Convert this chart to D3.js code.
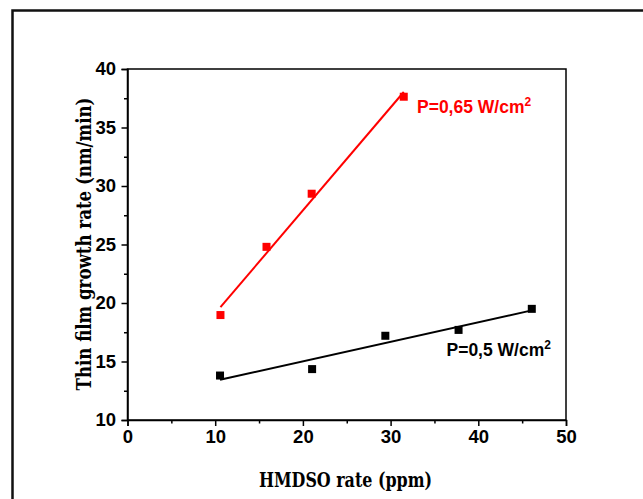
<!DOCTYPE html>
<html>
<head>
<meta charset="utf-8">
<script src="https://cdn.jsdelivr.net/npm/d3@7"></script>
<style>
  html, body { margin: 0; padding: 0; background: #fff; }
  svg { display: block; }
</style>
</head>
<body>
<svg id="chart" width="643" height="499"></svg>
<script>
// ---- data ----
const xTicks = [0, 10, 20, 30, 40, 50];
const yTicks = [10, 15, 20, 25, 30, 35, 40];
const redX = [10.6, 15.85, 21.0, 31.5];
const redY = [18.97, 24.8, 29.34, 37.63];
const blackX = [10.55, 21.05, 29.4, 37.75, 46.1];
const blackY = [13.8, 14.35, 17.2, 17.7, 19.5];
const redLabel = "P=0,65 W/cm";
const blackLabel = "P=0,5 W/cm";
const xTitle = "HMDSO rate (ppm)";
const yTitle = "Thin film growth rate (nm/min)";

const svg = d3.select("#chart");
const margin = {left: 127.5, right: 566, top: 69, bottom: 420};
const x = d3.scaleLinear().domain([0, 50]).range([margin.left, margin.right]);
const y = d3.scaleLinear().domain([10, 40]).range([margin.bottom, margin.top]);

// outer frame
svg.append("rect").attr("x", 12.5).attr("y", 10.5).attr("width", 700).attr("height", 600)
  .attr("fill", "none").attr("stroke", "#111").attr("stroke-width", 2.5);

// plot box
svg.append("rect").attr("x", margin.left).attr("y", margin.top)
  .attr("width", margin.right - margin.left).attr("height", margin.bottom - margin.top)
  .attr("fill", "none").attr("stroke", "#000").attr("stroke-width", 1.5);

const tickFont = "'Liberation Sans', Arial, sans-serif";
const titleFont = "'DejaVu Serif', 'Liberation Serif', serif";

// x axis
const xAxis = d3.axisBottom(x).tickValues(xTicks).tickSize(6).tickPadding(4).tickFormat(d3.format("d"));
const gx = svg.append("g").attr("transform", `translate(0,${margin.bottom})`).call(xAxis);
gx.select(".domain").attr("stroke-width", 1.5);
gx.selectAll(".tick line").attr("stroke-width", 1.5);
gx.selectAll("text").attr("font-family", tickFont).attr("font-weight", "bold").attr("font-size", 18.5).attr("fill", "#000");
// x minor ticks
const gxm = svg.append("g").attr("transform", `translate(0,${margin.bottom})`)
  .call(d3.axisBottom(x).tickValues([5, 15, 25, 35, 45]).tickSize(3.5).tickFormat(""));
gxm.select(".domain").remove();
gxm.selectAll(".tick line").attr("stroke-width", 1.5);

// y axis
const yAxis = d3.axisLeft(y).tickValues(yTicks).tickSize(6).tickPadding(5.5).tickFormat(d3.format("d"));
const gy = svg.append("g").attr("transform", `translate(${margin.left},0)`).call(yAxis);
gy.select(".domain").attr("stroke-width", 1.5);
gy.selectAll(".tick line").attr("stroke-width", 1.5);
gy.selectAll("text").attr("font-family", tickFont).attr("font-weight", "bold").attr("font-size", 18.5).attr("fill", "#000");
const gym = svg.append("g").attr("transform", `translate(${margin.left},0)`)
  .call(d3.axisLeft(y).tickValues([12.5, 17.5, 22.5, 27.5, 32.5, 37.5]).tickSize(3.5).tickFormat(""));
gym.select(".domain").remove();
gym.selectAll(".tick line").attr("stroke-width", 1.5);

// titles
svg.append("text").attr("x", 345.5).attr("y", 487)
  .attr("text-anchor", "middle")
  .attr("font-family", titleFont).attr("font-weight", "bold")
  .attr("font-size", 19.5).attr("textLength", 173).attr("lengthAdjust", "spacingAndGlyphs")
  .text(xTitle);
svg.append("text").attr("transform", `translate(91,244) rotate(-90)`)
  .attr("text-anchor", "middle")
  .attr("font-family", titleFont).attr("font-weight", "bold")
  .attr("font-size", 19.5).attr("textLength", 293).attr("lengthAdjust", "spacingAndGlyphs")
  .text(yTitle);

// linear fit helper
function fit(xs, ys) {
  const mx = d3.mean(xs), my = d3.mean(ys);
  let sxy = 0, sxx = 0;
  xs.forEach((xv, i) => { sxy += (xv - mx) * (ys[i] - my); sxx += (xv - mx) ** 2; });
  const b = sxy / sxx, a = my - b * mx;
  const x0 = d3.min(xs), x1 = d3.max(xs);
  return [[x0, a + b * x0], [x1, a + b * x1]];
}
const line = d3.line().x(d => x(d[0])).y(d => y(d[1]));

function series(xs, ys, color) {
  svg.append("path").datum(fit(xs, ys)).attr("d", line)
    .attr("fill", "none").attr("stroke", color).attr("stroke-width", 2);
  svg.append("g").selectAll("rect").data(xs.map((v, i) => [v, ys[i]])).join("rect")
    .attr("x", d => x(d[0]) - 4).attr("y", d => y(d[1]) - 4)
    .attr("width", 8).attr("height", 8).attr("fill", color);
}
series(redX, redY, "#ff0000");
series(blackX, blackY, "#000000");

// labels
function label(txt, px, py, color) {
  const t = svg.append("text").attr("x", px).attr("y", py)
    .attr("font-family", tickFont).attr("font-weight", "bold").attr("font-size", 17.5).attr("fill", color);
  t.append("tspan").text(txt);
  t.append("tspan").attr("dy", -7).attr("font-size", 12).text("2");
}
label(redLabel, 417, 113, "#ff0000");
label(blackLabel, 446.5, 356, "#000000");
</script>
</body>
</html>
